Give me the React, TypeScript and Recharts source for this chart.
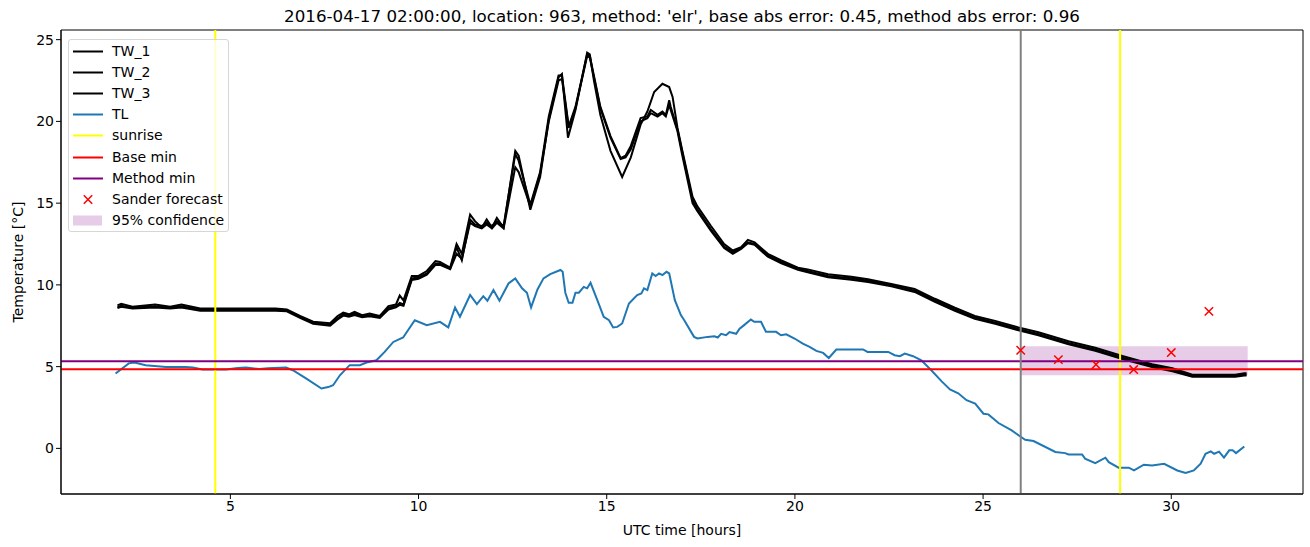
import React from 'react';
import {
  ComposedChart,
  Line,
  Scatter,
  XAxis,
  YAxis,
  ReferenceLine,
  ReferenceArea,
} from 'recharts';

// [hour, temperature] pairs
const tlPoints: [number, number][] = [
  [1.95, 4.58], [2.3, 5.2], [2.45, 5.25], [2.75, 5.09], [3.29, 4.98], [3.82, 4.98], [4.0, 4.95],
  [4.26, 4.82], [4.88, 4.82], [5.2, 4.92], [5.42, 4.94], [5.77, 4.85], [6.0, 4.9], [6.48, 4.94],
  [6.66, 4.78], [7.02, 4.27], [7.42, 3.66], [7.6, 3.75], [7.73, 3.86], [7.91, 4.47], [8.17, 5.09],
  [8.44, 5.09], [8.62, 5.25], [8.88, 5.39], [9.1, 5.9], [9.33, 6.51], [9.59, 6.78], [9.9, 7.84],
  [10.22, 7.54], [10.57, 7.74], [10.79, 7.4], [10.97, 8.62], [11.1, 8.05], [11.37, 9.38],
  [11.55, 8.82], [11.72, 9.31], [11.83, 9.03], [11.99, 9.68], [12.15, 9.03], [12.39, 10.09],
  [12.57, 10.4], [12.75, 9.79], [12.88, 9.52], [12.99, 8.62], [13.16, 9.72], [13.32, 10.4],
  [13.5, 10.66], [13.77, 10.91], [13.83, 10.8], [13.9, 9.52], [13.99, 8.9], [14.09, 8.9],
  [14.17, 9.52], [14.26, 9.52], [14.39, 9.88], [14.48, 9.79], [14.57, 10.13], [14.75, 9.07],
  [14.92, 8.05], [15.06, 7.84], [15.17, 7.4], [15.28, 7.43], [15.41, 7.64], [15.59, 8.86],
  [15.81, 9.38], [15.92, 9.48], [15.99, 9.79], [16.08, 9.68], [16.21, 10.7], [16.3, 10.54],
  [16.39, 10.7], [16.48, 10.6], [16.59, 10.8], [16.66, 10.7], [16.81, 9.07], [16.97, 8.15],
  [17.06, 7.84], [17.32, 6.82], [17.41, 6.72], [17.68, 6.82], [17.86, 6.86], [17.95, 6.78],
  [18.04, 7.01], [18.17, 6.92], [18.26, 7.11], [18.44, 7.01], [18.53, 7.32], [18.65, 7.54],
  [18.83, 7.88], [18.92, 7.74], [19.1, 7.74], [19.23, 7.13], [19.5, 7.13], [19.63, 6.92],
  [19.77, 6.98], [19.99, 6.72], [20.21, 6.41], [20.39, 6.21], [20.57, 5.96], [20.75, 5.84],
  [20.9, 5.53], [21.1, 6.05], [21.81, 6.05], [21.93, 5.9], [22.48, 5.9], [22.65, 5.7],
  [22.79, 5.64], [22.92, 5.8], [23.14, 5.64], [23.36, 5.39], [23.63, 4.76], [23.9, 4.1],
  [24.12, 3.6], [24.34, 3.37], [24.56, 2.95], [24.79, 2.74], [25.01, 2.12], [25.14, 2.08],
  [25.41, 1.55], [25.76, 1.1], [25.98, 0.74], [26.12, 0.53], [26.34, 0.45], [26.92, -0.22],
  [27.18, -0.29], [27.27, -0.37], [27.63, -0.37], [27.71, -0.63], [27.98, -0.9], [28.25, -0.57],
  [28.34, -0.84], [28.6, -1.18], [28.87, -1.18], [29.01, -1.35], [29.27, -1.0], [29.49, -1.04],
  [29.81, -0.94], [30.16, -1.35], [30.38, -1.51], [30.6, -1.35], [30.78, -0.94], [30.91, -0.33],
  [31.05, -0.18], [31.14, -0.33], [31.27, -0.2], [31.4, -0.57], [31.54, -0.12], [31.63, -0.12],
  [31.72, -0.29], [31.94, 0.12],
];

const tw1Points: [number, number][] = [
  [2.0, 8.75], [2.1, 8.85], [2.4, 8.66], [3.0, 8.8], [3.4, 8.66], [3.7, 8.8], [4.2, 8.56], [6.2, 8.56],
  [6.5, 8.5], [6.85, 8.1], [7.2, 7.75], [7.65, 7.65], [7.85, 8.1], [8.0, 8.3], [8.15, 8.2],
  [8.3, 8.35], [8.5, 8.15], [8.7, 8.25], [8.97, 8.1], [9.2, 8.7], [9.4, 8.8], [9.5, 9.35],
  [9.6, 9.05], [9.82, 10.55], [10.0, 10.55], [10.22, 10.85], [10.45, 11.45], [10.57, 11.4],
  [10.84, 11.05], [11.01, 12.5], [11.15, 11.9], [11.37, 14.3], [11.5, 13.9], [11.68, 13.5],
  [11.81, 14.0], [11.95, 13.5], [12.08, 14.1], [12.26, 13.5], [12.57, 18.2], [12.66, 17.9],
  [12.97, 14.6], [13.23, 16.6], [13.46, 20.1], [13.72, 22.7], [13.81, 22.9], [13.97, 19.0],
  [14.17, 20.7], [14.48, 24.2], [14.55, 24.1], [14.66, 22.5], [14.83, 20.4], [15.1, 18.2],
  [15.41, 16.6], [15.64, 17.8], [15.9, 19.8], [16.08, 20.6], [16.26, 21.8], [16.48, 22.3],
  [16.66, 22.1], [16.75, 21.5], [16.88, 19.6], [17.0, 18.3], [17.28, 15.4], [17.41, 14.8],
  [17.77, 13.6], [18.12, 12.5], [18.35, 12.1], [18.57, 12.3], [18.75, 12.75], [18.93, 12.6],
  [19.28, 11.9], [19.64, 11.5], [20.08, 11.05], [20.34, 10.95], [20.88, 10.65], [21.5, 10.5],
  [21.94, 10.35], [22.56, 10.05], [23.18, 9.75], [23.72, 9.15], [24.25, 8.6], [24.78, 8.1],
  [25.32, 7.8], [25.94, 7.4], [26.47, 7.1], [27.27, 6.55], [27.98, 6.15], [28.7, 5.65],
  [29.49, 5.15], [30.03, 4.9], [30.56, 4.5], [31.7, 4.5], [31.94, 4.6], [32.0, 4.6],
];

const tw2Points: [number, number][] = [
  [2.0, 8.65], [2.1, 8.72], [2.4, 8.6], [3.0, 8.7], [3.4, 8.62], [3.7, 8.7], [4.2, 8.5],
  [6.2, 8.5], [6.5, 8.45], [6.85, 8.05], [7.2, 7.7], [7.65, 7.55], [7.85, 7.95], [8.0, 8.2],
  [8.15, 8.15], [8.3, 8.25], [8.5, 8.1], [8.7, 8.15], [8.97, 8.05], [9.2, 8.6], [9.4, 8.7],
  [9.5, 8.9], [9.6, 8.8], [9.82, 10.4], [10.0, 10.45], [10.22, 10.7], [10.45, 11.3],
  [10.57, 11.3], [10.84, 11.0], [11.01, 12.3], [11.15, 11.5], [11.37, 14.0], [11.5, 13.7],
  [11.68, 13.6], [11.81, 13.8], [11.95, 13.6], [12.08, 13.9], [12.26, 13.6], [12.57, 18.0],
  [12.66, 17.6], [12.97, 14.9], [13.23, 16.9], [13.46, 20.3], [13.72, 22.8], [13.81, 22.8],
  [13.99, 19.7], [14.17, 20.9], [14.48, 24.1], [14.55, 24.0], [14.66, 22.8], [14.83, 20.9],
  [15.1, 19.1], [15.37, 17.75], [15.5, 17.9], [15.64, 18.5], [15.9, 20.2], [16.08, 20.3],
  [16.17, 20.7], [16.35, 20.4], [16.48, 20.6], [16.57, 20.4], [16.66, 21.3], [16.7, 20.9],
  [16.88, 19.5], [17.0, 18.2], [17.28, 15.2], [17.41, 14.6], [17.77, 13.4], [18.12, 12.35],
  [18.35, 12.0], [18.57, 12.25], [18.75, 12.6], [18.93, 12.5], [19.28, 11.8], [19.64, 11.4],
  [20.08, 11.0], [20.34, 10.85], [20.88, 10.55], [21.5, 10.4], [21.94, 10.25], [22.56, 10.0],
  [23.18, 9.65], [23.72, 9.05], [24.25, 8.5], [24.78, 8.0], [25.32, 7.7], [25.94, 7.3],
  [26.47, 7.0], [27.27, 6.45], [27.98, 6.05], [28.7, 5.55], [29.49, 5.05], [30.03, 4.8],
  [30.56, 4.42], [31.7, 4.42], [31.94, 4.52], [32.0, 4.52],
];

const tw3Points: [number, number][] = [
  [2.0, 8.58], [2.1, 8.66], [2.4, 8.55], [3.0, 8.62], [3.4, 8.55], [3.7, 8.62], [4.2, 8.42],
  [6.2, 8.42], [6.5, 8.38], [6.85, 7.98], [7.2, 7.62], [7.65, 7.5], [7.85, 7.88], [8.0, 8.12],
  [8.15, 8.06], [8.3, 8.16], [8.5, 8.02], [8.7, 8.08], [8.97, 7.98], [9.2, 8.5], [9.4, 8.62],
  [9.5, 8.78], [9.6, 8.72], [9.82, 10.3], [10.0, 10.38], [10.22, 10.62], [10.45, 11.22],
  [10.57, 11.22], [10.84, 10.96], [11.01, 11.9], [11.15, 11.6], [11.37, 13.8], [11.5, 13.6],
  [11.68, 13.45], [11.81, 13.7], [11.95, 13.45], [12.08, 13.8], [12.26, 13.45], [12.57, 17.2],
  [12.66, 16.9], [12.97, 14.8], [13.23, 16.8], [13.46, 20.0], [13.72, 22.5], [13.81, 22.6],
  [13.99, 19.6], [14.17, 20.8], [14.48, 24.0], [14.55, 23.9], [14.66, 22.7], [14.83, 20.8],
  [15.1, 19.0], [15.37, 17.7], [15.5, 17.8], [15.64, 18.3], [15.9, 20.0], [16.08, 20.2],
  [16.17, 20.5], [16.35, 20.3], [16.48, 20.5], [16.57, 20.3], [16.66, 21.0], [16.7, 20.7],
  [16.88, 19.4], [17.0, 18.0], [17.28, 15.0], [17.41, 14.5], [17.77, 13.3], [18.12, 12.25],
  [18.35, 11.9], [18.57, 12.2], [18.75, 12.55], [18.93, 12.45], [19.28, 11.72], [19.64, 11.32],
  [20.08, 10.92], [20.34, 10.77], [20.88, 10.47], [21.5, 10.32], [21.94, 10.17], [22.56, 9.92],
  [23.18, 9.57], [23.72, 8.97], [24.25, 8.42], [24.78, 7.92], [25.32, 7.62], [25.94, 7.22],
  [26.47, 6.92], [27.27, 6.37], [27.98, 5.97], [28.7, 5.47], [29.49, 4.97], [30.03, 4.72],
  [30.56, 4.38], [31.7, 4.38], [31.94, 4.46], [32.0, 4.46],
];

const forecastHours = [26, 27, 28, 29, 30, 31];
const forecastTemps = [6.0, 5.43, 5.13, 4.82, 5.86, 8.38];

const sunriseHours = [4.6, 28.64];
const forecastStart = 26;
const baseMin = 4.84;
const methodMin = 5.33;
const confidence = { x1: 26, x2: 32.03, y1: 4.47, y2: 6.25 };

const xTicks = [5, 10, 15, 20, 25, 30];
const yTicks = [0, 5, 10, 15, 20, 25];
const xDomain: [number, number] = [0.5, 33.5];
const yDomain: [number, number] = [-2.79, 25.59];

const title =
  "2016-04-17 02:00:00, location: 963, method: 'elr', base abs error: 0.45, method abs error: 0.96";

const toRows = (pts: [number, number][]) => pts.map(([x, y]) => ({ x, y }));
const forecastRows = forecastHours.map((x, i) => ({ x, y: forecastTemps[i] }));

const FONT = '"DejaVu Sans", sans-serif';
const TICK = { fontSize: 14, fill: '#000', fontFamily: FONT };

function Cross(props: any) {
  const { cx, cy } = props;
  const r = 4.2;
  return (
    <path
      d={`M${cx - r},${cy - r}L${cx + r},${cy + r}M${cx - r},${cy + r}L${cx + r},${cy - r}`}
      stroke="#ff0000"
      strokeWidth={1.5}
      fill="none"
    />
  );
}

const legendItems = [
  { label: 'TW_1', kind: 'line', color: '#000' },
  { label: 'TW_2', kind: 'line', color: '#000' },
  { label: 'TW_3', kind: 'line', color: '#000' },
  { label: 'TL', kind: 'line', color: '#1f77b4' },
  { label: 'sunrise', kind: 'line', color: '#ffff00' },
  { label: 'Base min', kind: 'line', color: '#ff0000' },
  { label: 'Method min', kind: 'line', color: '#800080' },
  { label: 'Sander forecast', kind: 'cross', color: '#ff0000' },
  { label: '95% confidence', kind: 'patch', color: '#e6cce6' },
];

function ChartLegend() {
  return (
    <div
      style={{
        position: 'absolute',
        left: 68,
        top: 39,
        width: 159,
        height: 191,
        border: '1px solid #d6d6d6',
        borderRadius: 3,
        background: 'rgba(255,255,255,0.8)',
        fontFamily: FONT,
        fontSize: 14,
      }}
    >
      {legendItems.map((it, i) => (
        <div
          key={it.label}
          style={{ position: 'absolute', left: 0, top: 1 + i * 21.1, height: 21, width: '100%' }}
        >
          <svg width={40} height={21} style={{ position: 'absolute', left: 3, top: 0 }}>
            {it.kind === 'line' && <line x1={1} x2={31} y1={10.5} y2={10.5} stroke={it.color} strokeWidth={2} />}
            {it.kind === 'cross' && <Cross cx={16} cy={10.5} />}
            {it.kind === 'patch' && <rect x={1} y={5.5} width={29} height={10} fill={it.color} />}
          </svg>
          <span style={{ position: 'absolute', left: 43, top: 1, lineHeight: '19px' }}>{it.label}</span>
        </div>
      ))}
    </div>
  );
}

export default function App() {
  return (
    <div style={{ position: 'absolute', left: 0, top: 0, width: 1310, height: 547, background: '#fff' }}>
      <div
        style={{
          position: 'absolute',
          left: 61,
          width: 1242,
          top: 6,
          textAlign: 'center',
          fontFamily: FONT,
          fontSize: 16.7,
        }}
      >
        {title}
      </div>
      <ComposedChart
        width={1310}
        height={547}
        margin={{ top: 30, right: 7, bottom: 0, left: 0 }}
      >
        <XAxis
          type="number"
          dataKey="x"
          domain={xDomain}
          ticks={xTicks}
          allowDataOverflow
          tick={TICK}
          tickSize={5}
          axisLine={{ stroke: '#000', strokeWidth: 1 }}
          tickLine={{ stroke: '#000' }}
          height={53}
          label={{ value: 'UTC time [hours]', position: 'insideBottom', offset: 12, style: { fontSize: 14, fill: '#000', fontFamily: FONT } }}
        />
        <YAxis
          type="number"
          domain={yDomain}
          ticks={yTicks}
          allowDataOverflow
          tick={TICK}
          tickSize={5}
          width={61}
          axisLine={{ stroke: '#000', strokeWidth: 1 }}
          tickLine={{ stroke: '#000' }}
          label={{ value: 'Temperature [°C]', angle: -90, position: 'insideLeft', offset: 18, style: { fontSize: 14, fill: '#000', fontFamily: FONT, textAnchor: 'middle' } }}
        />

        <ReferenceArea
          x1={confidence.x1}
          x2={confidence.x2}
          y1={confidence.y1}
          y2={confidence.y2}
          fill="#800080"
          fillOpacity={0.2}
          stroke="none"
        />

        <Line data={toRows(tw1Points)} dataKey="y" type="linear" stroke="#000" strokeWidth={2} dot={false} isAnimationActive={false} />
        <Line data={toRows(tw2Points)} dataKey="y" type="linear" stroke="#000" strokeWidth={2} dot={false} isAnimationActive={false} />
        <Line data={toRows(tw3Points)} dataKey="y" type="linear" stroke="#000" strokeWidth={2} dot={false} isAnimationActive={false} />
        <Line data={toRows(tlPoints)} dataKey="y" type="linear" stroke="#1f77b4" strokeWidth={2} dot={false} isAnimationActive={false} />

        {sunriseHours.map((h) => (
          <ReferenceLine key={h} x={h} stroke="#ffff00" strokeWidth={2} />
        ))}
        <ReferenceLine y={baseMin} stroke="#ff0000" strokeWidth={2} />
        <ReferenceLine y={methodMin} stroke="#800080" strokeWidth={2} />
        <ReferenceLine x={forecastStart} stroke="#808080" strokeWidth={2} />

        <Scatter data={forecastRows} dataKey="y" shape={<Cross />} isAnimationActive={false} />

        {/* axes frame (top and right spines) */}
        <ReferenceArea
          x1={xDomain[0]}
          x2={xDomain[1]}
          y1={yDomain[0]}
          y2={yDomain[1]}
          fill="none"
          stroke="#000"
          strokeWidth={1}
          ifOverflow="extendDomain"
        />
      </ComposedChart>
      <ChartLegend />
    </div>
  );
}
